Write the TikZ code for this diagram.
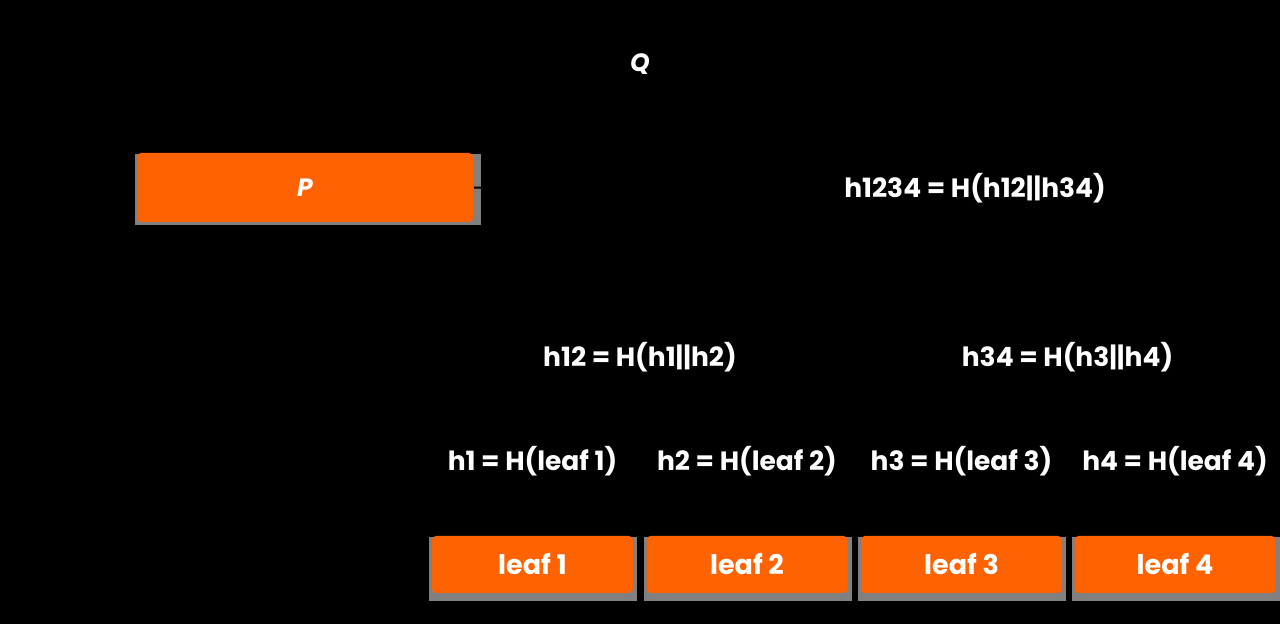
\documentclass[tikz,border=0pt]{standalone}
\usepackage{fontspec}
\setmainfont{Poppins}
\usetikzlibrary{positioning}
\usetikzlibrary{backgrounds}
\usetikzlibrary{calc}
\definecolor{leaforange}{HTML}{FF6200}
\definecolor{shadowgray}{HTML}{808080}

\begin{document}
\begin{tikzpicture}[
            x = 1pt, y = 1pt,
            node distance = 214.5pt, % distance between leaves
            line width = 2pt
        ]

        \tikzstyle{box}=[
            fill = leaforange,
            rounded corners = 4pt,
            inner sep = 0pt,
            text = white,
            font = \bfseries\fontsize{27}{32}\selectfont
        ]
        \tikzstyle{leaf}=[box, minimum width = 201pt, minimum height = 57pt]
        \tikzstyle{hash}=[
            text = white,
            inner sep = 2pt,
            font = \bfseries\fontsize{26.5}{32}\selectfont
        ]
        \tikzstyle{link}=[draw = black]

        % leaves
        \node[leaf] (L1) at (532.5,59.5) {leaf 1};
        \node[leaf] (L2) [right of = L1] {leaf 2};
        \node[leaf] (L3) [right of = L2] {leaf 3};
        \node[leaf] (L4) [right of = L3, node distance = 213.5pt] {leaf 4};

        % leaf hashes
        \node[hash] (H1) [above of = L1, node distance = 103.5pt] {h1 = H(leaf 1)};
        \node[hash] (H2) [above of = L2, node distance = 103.5pt] {h2 = H(leaf 2)};
        \node[hash] (H3) [above of = L3, node distance = 103.5pt] {h3 = H(leaf 3)};
        \node[hash] (H4) [above of = L4, node distance = 103.5pt] {h4 = H(leaf 4)};

        % inner hashes
        \node[hash] (H12) at (640,267) {h12 = H(h1||h2)};
        \node[hash] (H34) at (1067.5,267) {h34 = H(h3||h4)};
        \node[hash] (H1234) at (975,436) {h1234 = H(h12||h34)};

        % parties
        \node[box, minimum width = 336pt, minimum height = 69pt,
              font = \bfseries\itshape\fontsize{25}{30}\selectfont] (P) at (305,436.5) {P};
        \node[hash, font = \bfseries\itshape\fontsize{25}{30}\selectfont] (Q) at (640,560) {Q};

        % connectors
        \path[link] (P) edge (H1234);
        \path[link] (H1234) edge (H12) edge (H34);
        \path[link] (H12) edge (H1) edge (H2);
        \path[link] (H34) edge (H3) edge (H4);
        \foreach \i in {1,...,4}
            \path[link] (H\i) edge (L\i);

        \begin{scope}[on background layer]
            \fill[black] (0,0) rectangle (1280,624);
            \foreach \n in {L1, L2, L3, L4}
                \fill[shadowgray] ($(\n.north west)+(-2,-2)$) rectangle ($(\n.south east)+(3,-7)$);
            \fill[shadowgray] ($(P.north west)+(-1,-2)$) rectangle ($(P.south east)+(7,-2)$);
        \end{scope}

\end{tikzpicture}
\end{document}
